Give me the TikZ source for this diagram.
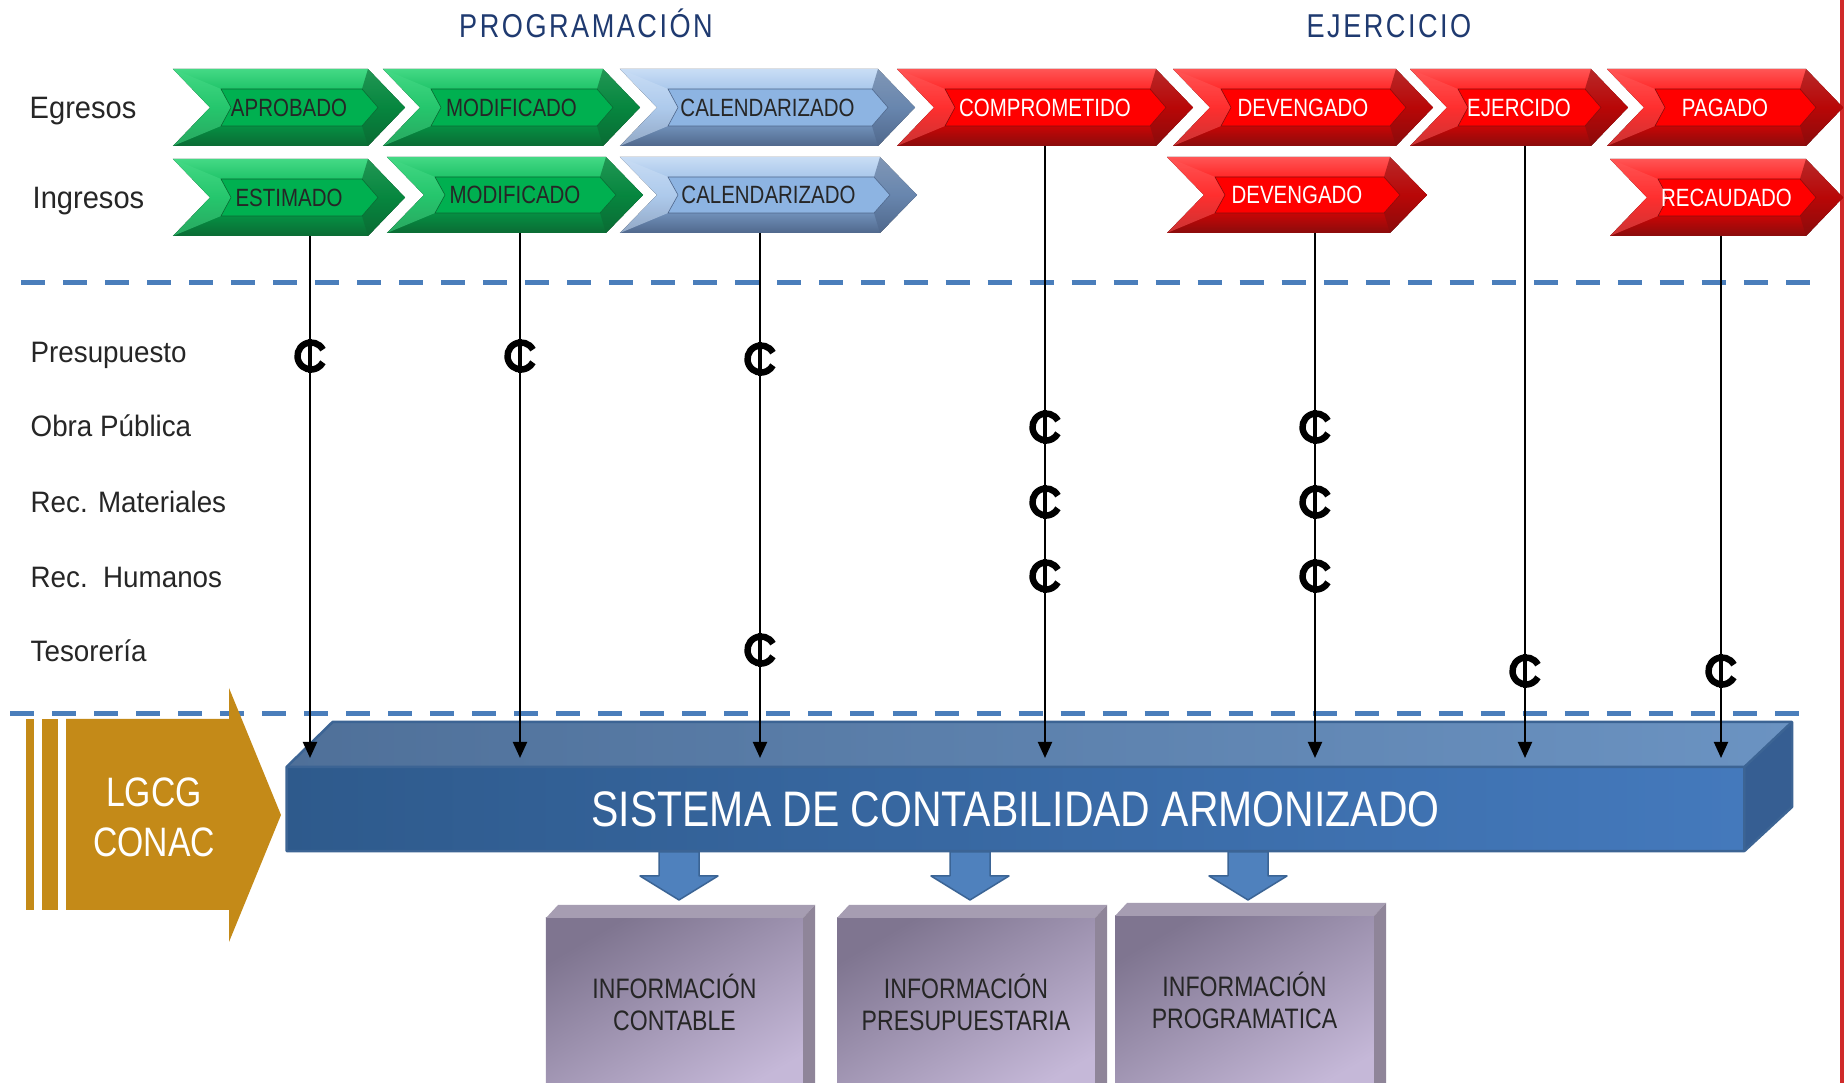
\documentclass[tikz,border=0pt]{standalone}
\usepackage{fontspec}
\setmainfont{Liberation Sans}[FakeStretch=0.94]
\newfontfamily\nf{Liberation Sans}[FakeStretch=0.82]
\newfontfamily\hf{Liberation Sans}[FakeStretch=0.82,LetterSpace=7.6]
\usetikzlibrary{arrows.meta,calc}
\definecolor{gbase}{HTML}{00B050}
\definecolor{glight}{HTML}{44D985}
\definecolor{gdark}{HTML}{0B6B34}
\definecolor{bbase}{HTML}{8DB4E2}
\definecolor{blight}{HTML}{C9DDF5}
\definecolor{bdark}{HTML}{50688C}
\definecolor{rbase}{HTML}{FF0000}
\definecolor{rlight}{HTML}{FF5555}
\definecolor{rdark}{HTML}{8A0C0C}
\definecolor{headblue}{HTML}{1F3A70}
\definecolor{dashblue}{HTML}{4A7EBB}
\definecolor{gold}{HTML}{C48A18}
\definecolor{sysfrontA}{HTML}{2E5A8C}
\definecolor{sysfrontB}{HTML}{4479BC}
\definecolor{systopA}{HTML}{4F7099}
\definecolor{systopB}{HTML}{6B93C2}
\definecolor{sysside}{HTML}{365E92}
\definecolor{sysedge}{HTML}{3C6494}
\definecolor{boxA}{HTML}{7F7590}
\definecolor{boxB}{HTML}{C5B8D8}
\definecolor{boxtop}{HTML}{A69DB2}
\definecolor{boxside}{HTML}{8F8599}
\definecolor{barrow}{HTML}{4F81BD}
\definecolor{barrowedge}{HTML}{3B6495}
\definecolor{edgered}{HTML}{D02A2A}
\tikzset{
  chevbox/.style={inner sep=0pt, outer sep=0pt},
  chevtext/.style={font=\nf\fontsize{7.1}{8.5}\selectfont, inner sep=0pt},
  rowlabel/.style={anchor=base west, font=\fontsize{8.4}{10}\selectfont, text=black!85, inner sep=0pt},
  sidelabel/.style={anchor=base west, font=\fontsize{8.8}{10}\selectfont, text=black!85, inner sep=0pt},
  heading/.style={anchor=base, font=\hf\fontsize{9.4}{11}\selectfont, text=headblue, inner sep=0pt},
  conn/.style={line width=0.02cm, -{Triangle[width=0.14cm,length=0.16cm]}},
  cmark/.style={line width=0.065cm},
  dashline/.style={draw=dashblue, line width=0.05cm, dash pattern=on 0.24cm off 0.18cm},
  infotext/.style={font=\nf\fontsize{8}{9.1}\selectfont, align=center, text=black!85, inner sep=0pt},
  emptybox/.style={inner sep=0pt, outer sep=0pt},
}
\newcommand\chevron[8]{%
  \pgfmathsetmacro\chw{(#3-#2)*0.01}%
  \pgfmathsetmacro\chh{(#5-#4)*0.01}%
  \node[chevbox, minimum width=\chw cm, minimum height=\chh cm] (#1) at ({(#2+#3)/2},{(#4+#5)/2}) {};
  \fill[top color=#6light, bottom color=#6dark, middle color=#6base] (#1.north west) -- ([xshift=-0.37cm]#1.north east) -- (#1.east) -- ([xshift=-0.37cm]#1.south east) -- (#1.south west) -- ([xshift=0.37cm]#1.west) -- cycle;
  \fill[#6light, opacity=0.55] (#1.north west) -- ([xshift=0.37cm]#1.west) -- (#1.south west) -- ([xshift=0.48cm,yshift=0.2cm]#1.south west) -- ([xshift=0.58cm]#1.west) -- ([xshift=0.48cm,yshift=-0.2cm]#1.north west) -- cycle;
  \fill[#6dark, opacity=0.6] ([xshift=-0.37cm]#1.north east) -- (#1.east) -- ([xshift=-0.37cm]#1.south east) -- ([xshift=-0.43cm,yshift=0.2cm]#1.south east) -- ([xshift=-0.27cm]#1.east) -- ([xshift=-0.43cm,yshift=-0.2cm]#1.north east) -- cycle;
  \filldraw[fill=#6base, draw=#6dark, line width=0.006cm] ([xshift=0.48cm,yshift=-0.2cm]#1.north west) -- ([xshift=-0.43cm,yshift=-0.2cm]#1.north east) -- ([xshift=-0.27cm]#1.east) -- ([xshift=-0.43cm,yshift=0.2cm]#1.south east) -- ([xshift=0.48cm,yshift=0.2cm]#1.south west) -- ([xshift=0.58cm]#1.west) -- cycle;
  \node[chevtext, text=#7] (#1-t) at (#1.center) {#8};
}
\newcommand\cmarkat[2]{%
  \draw[line width=0.04cm] (#1,{#2-17}) -- (#1,{#2+17});
  \draw[cmark] ({#1+1},#2) ++(28:0.135cm) arc[start angle=28, end angle=332, radius=0.135cm];
}
\newcommand\blockarrow[1]{%
  \filldraw[fill=barrow, draw=barrowedge, line width=0.015cm, line join=round] ({#1-20},852) -- ({#1+20},852) -- ({#1+20},876) -- ({#1+39},876) -- (#1,900) -- ({#1-39},876) -- ({#1-20},876) -- cycle;
}
\newcommand\infobox[7]{%
  \pgfmathsetmacro\ibw{(#3-#2)*0.01}%
  \pgfmathsetmacro\ibh{(1100-#4)*0.01}%
  \node[emptybox, minimum width=\ibw cm, minimum height=\ibh cm] (#1) at ({(#2+#3)/2},{(#4+1100)/2}) {};
  \fill[top color=boxA, bottom color=boxB, shading angle=30] (#1.north west) rectangle (#1.south east);
  \fill[boxtop] (#1.north west) -- ++(12,-13) -- ({#3+12},{#4-13}) -- (#1.north east) -- cycle;
  \fill[boxside] (#1.north east) -- ++(12,-13) -- ({#3+12},1100) -- (#1.south east) -- cycle;
  \node[infotext] (#1-t) at ({(#2+#3)/2},#5) {#6\\#7};
}
\begin{document}
\begin{tikzpicture}[x=0.01cm, y=-0.01cm]
\useasboundingbox (0,0) rectangle (1844,1083);
\fill[white] (0,0) rectangle (1844,1083);
\fill[edgered] (1840,0) rectangle (1844,1083);

% headings
\node[heading] (hprog) at (586,38) {PROGRAMACIÓN};
\node[heading] (hejer) at (1389,38) {EJERCICIO};

% side labels
\node[sidelabel] (legr) at (29,119) {Egresos};
\node[sidelabel] (ling) at (32,209) {Ingresos};
\node[rowlabel] (lpre) at (30,363) {Presupuesto};
\node[rowlabel] (lobr) at (30,437) {Obra Pública};
\node[rowlabel] (lmat) at (30,513) {Rec. Materiales};
\node[rowlabel] (lhum) at (30,588) {Rec.\ \ Humanos};
\node[rowlabel] (ltes) at (30,662) {Tesorería};

% chevrons row 1 (Egresos)
\chevron{aprobado}{173}{405}{69}{146}{g}{black!85}{APROBADO}
\chevron{modif1}{383}{640}{69}{146}{g}{black!85}{MODIFICADO}
\chevron{cal1}{620}{915}{69}{146}{b}{black!85}{CALENDARIZADO}
\chevron{compro}{897}{1193}{69}{146}{r}{white}{COMPROMETIDO}
\chevron{deven1}{1173}{1433}{69}{146}{r}{white}{DEVENGADO}
\chevron{ejerc}{1410}{1628}{69}{146}{r}{white}{EJERCIDO}
\chevron{pagado}{1607}{1843}{69}{146}{r}{white}{PAGADO}
% chevrons row 2 (Ingresos)
\chevron{estim}{173}{405}{159}{236}{g}{black!85}{ESTIMADO}
\chevron{modif2}{387}{643}{157}{233}{g}{black!85}{MODIFICADO}
\chevron{cal2}{620}{917}{157}{233}{b}{black!85}{CALENDARIZADO}
\chevron{deven2}{1167}{1427}{157}{233}{r}{white}{DEVENGADO}
\chevron{recaud}{1610}{1843}{159}{236}{r}{white}{RECAUDADO}

% dashed separators
\draw[dashline] (21,283) -- (1811,283);
\draw[dashline] (10,714) -- (1799,714);

% LGCG arrow
\fill[gold] (26,719) rectangle (34,910);
\fill[gold] (42,719) rectangle (58,910);
\fill[gold] (66,719) -- (229,719) -- (229,688) -- (281,815) -- (229,942) -- (229,910) -- (66,910) -- cycle;
\node[font=\nf\fontsize{11.7}{14.2}\selectfont, text=white, align=center, inner sep=0pt] (lgcg) at (154,817) {LGCG\\CONAC};

% sistema 3D box
\node[emptybox, minimum width=14.57cm, minimum height=0.84cm] (sistema) at (1015.5,809) {};
\fill[left color=sysfrontA, right color=sysfrontB] (sistema.north west) rectangle (sistema.south east);
\fill[left color=systopA, right color=systopB] (sistema.north west) -- ++(46,-45) -- (1792,722) -- (sistema.north east) -- cycle;
\fill[sysside] (sistema.north east) -- ++(48,-45) -- (1792,807) -- (sistema.south east) -- cycle;
\draw[sysedge, line width=0.025cm, line join=round] (sistema.north west) -- ++(46,-45) -- (1792,722) -- (1792,807) -- (sistema.south east) -- (sistema.south west) -- cycle;
\draw[sysedge, line width=0.025cm, line join=round] (sistema.north west) -- (sistema.north east) -- (sistema.south east) (sistema.north east) -- (1792,722);
\node[font=\nf\fontsize{14.2}{16}\selectfont, text=white, inner sep=0pt] (sistema-t) at (sistema.center) {SISTEMA DE CONTABILIDAD ARMONIZADO};

% columns
\coordinate (c1) at (310,0);
\coordinate (c2) at (520,0);
\coordinate (c3) at (760,0);
\coordinate (c4) at (1045,0);
\coordinate (c5) at (1315,0);
\coordinate (c6) at (1525,0);
\coordinate (c7) at (1721,0);
\draw[conn] (estim.south -| c1) -- ($(sistema.north -| c1)+(0,-9)$);
\draw[conn] (modif2.south -| c2) -- ($(sistema.north -| c2)+(0,-9)$);
\draw[conn] (cal2.south -| c3) -- ($(sistema.north -| c3)+(0,-9)$);
\draw[conn] (compro.south -| c4) -- ($(sistema.north -| c4)+(0,-9)$);
\draw[conn] (deven2.south -| c5) -- ($(sistema.north -| c5)+(0,-9)$);
\draw[conn] (ejerc.south -| c6) -- ($(sistema.north -| c6)+(0,-9)$);
\draw[conn] (recaud.south -| c7) -- ($(sistema.north -| c7)+(0,-9)$);

% markers
\cmarkat{310}{356}
\cmarkat{520}{356}
\cmarkat{760}{359}
\cmarkat{760}{650}
\cmarkat{1045}{427}
\cmarkat{1045}{502}
\cmarkat{1045}{576}
\cmarkat{1315}{427}
\cmarkat{1315}{502}
\cmarkat{1315}{576}
\cmarkat{1525}{671}
\cmarkat{1721}{671}

% block arrows
\blockarrow{679}
\blockarrow{970}
\blockarrow{1248}

% info boxes
\infobox{info1}{546}{803}{918}{1002}{INFORMACIÓN}{CONTABLE}
\infobox{info2}{837}{1095}{918}{1002}{INFORMACIÓN}{PRESUPUESTARIA}
\infobox{info3}{1115}{1374}{916}{1000}{INFORMACIÓN}{PROGRAMATICA}
\end{tikzpicture}
\end{document}
